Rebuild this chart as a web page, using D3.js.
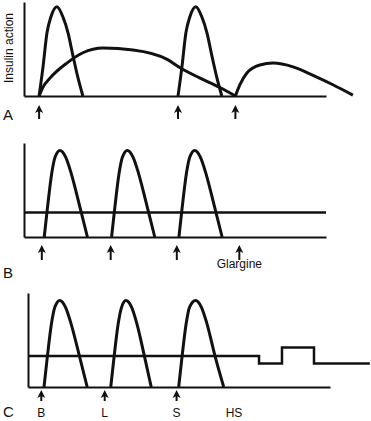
<!DOCTYPE html>
<html>
<head>
<meta charset="utf-8">
<script src="https://cdn.jsdelivr.net/npm/d3@7"></script>
<style>
  body { margin: 0; background: #fff; }
  text { font-family: "Liberation Sans", Arial, Helvetica, sans-serif; fill: #111; }
</style>
</head>
<body>
<div class="chart"></div>
<script>
// time runs 0..100 (arbitrary units), insulin action 0..100

// panel A: rapid acting + NPH
var aRapid1 = [[5,0],[6.3,31],[7.6,67],[8.9,84],[10.9,95],[12.9,84],[14.6,67],[16.2,43],[17.9,19],[19.5,0]];
var aRapid2 = [[51,0],[52.3,31],[53.6,67],[54.9,84],[56.9,95],[58.9,84],[60.6,67],[62.2,43],[63.9,19],[65.5,0]];
var aNph1 = [[5,0],[6.2,9],[8.6,19],[14.2,35],[19.5,46],[26.2,51],[36.1,49],[47.4,39],[51.7,30],[58.3,19],[64.9,9],[70,0]];
var aNph2 = [[70,0],[71.5,12],[73.8,24.5],[78.1,33],[82.5,35],[89.1,31],[95.7,22],[102.3,12],[108.9,1]];
var aArrows = [5, 51, 70];

// panel B: rapid acting + glargine
var bRapid1 = [[6.7,0],[7.8,32],[9.2,68],[10.3,85],[11.9,92],[13.8,85],[15.6,68],[18.5,32],[21,0]];
var bRapid2 = [[29,0],[30.1,32],[31.5,68],[32.6,85],[34.2,92],[36.1,85],[37.9,68],[40.8,32],[43.3,0]];
var bRapid3 = [[51.3,0],[52.4,32],[53.8,68],[54.9,85],[56.5,92],[58.4,85],[60.2,68],[63.1,32],[65.6,0]];
var bBasal = [[0,26],[100,26]];
var bArrows = [5.9, 28.7, 50.6, 71.3];
var bArrowLabels = ["", "", "", "Glargine"];

// panel C: rapid acting + pump basal
var cRapid1 = [[5.3,0],[6.4,32],[7.8,68],[8.9,85],[10.5,92],[12.4,85],[14.2,68],[17.1,32],[19.6,0]];
var cRapid2 = [[27.4,0],[28.5,32],[29.9,68],[31,85],[32.4,92],[34.3,85],[36,68],[38.6,32],[40.8,0]];
var cRapid3 = [[49.9,0],[51,32],[52.4,68],[53.5,85],[55.5,92],[57.4,85],[59.2,68],[62,32],[64.8,0]];
var cBasalTimes = [0, 76.5, 84.1, 94.7, 113.2];
var cBasalValues = [33, 25, 42, 25, 25];
var cArrows = [4.4, 25.4, 49.2];
var cLabels = ["B", "L", "S", "HS"];
var cLabelTimes = [4.4, 25.4, 49.2, 68.2];

var panelLetters = ["A", "B", "C"];

var width = 371, height = 421;

var svg = d3.select('.chart').append('svg')
	.attr('width', width)
	.attr('height', height);

var panels = [
	{ left: 24, top: 2, bottom: 96, curves: [aRapid1, aRapid2, aNph1, aNph2], arrows: aArrows, arrowTop: 105, arrowBottom: 119, letterY: 120 },
	{ left: 24, top: 143, bottom: 237, curves: [bRapid1, bRapid2, bRapid3], flat: [bBasal], arrows: bArrows, arrowTop: 245, arrowBottom: 260, letterY: 278 },
	{ left: 28, top: 293, bottom: 387, curves: [cRapid1, cRapid2, cRapid3], step: true, arrows: cArrows, arrowTop: 390, arrowBottom: 401, letterY: 417 }
];

var line = function(x, y, curve) {
	return d3.line()
		.x(function(d){ return x(d[0]); })
		.y(function(d){ return y(d[1]); })
		.curve(curve);
};

panels.forEach(function(p, i) {
	var x = d3.scaleLinear().domain([0, 100]).range([p.left, p.left + 302]);
	var y = d3.scaleLinear().domain([0, 100]).range([p.bottom, p.top]);
	var g = svg.append('g');

	// axes: bare lines, no ticks
	g.append('g').attr('transform', 'translate(0,' + p.bottom + ')')
		.call(d3.axisBottom(x).ticks(0).tickSizeOuter(0));
	g.append('g').attr('transform', 'translate(' + p.left + ',0)')
		.call(d3.axisLeft(y).ticks(0).tickSizeOuter(0));
	g.selectAll('.domain').attr('stroke', '#111').attr('stroke-width', 2);

	if (p.flat) {
		g.selectAll('path.flat').data(p.flat).enter().append('path')
			.attr('class', 'flat')
			.attr('d', line(x, y, d3.curveLinear))
			.attr('fill', 'none').attr('stroke', '#111').attr('stroke-width', 2.5);
	}
	if (p.step) {
		var basal = cBasalTimes.map(function(t, k){ return [t, cBasalValues[k]]; });
		g.append('path')
			.datum(basal)
			.attr('d', line(x, y, d3.curveStepAfter))
			.attr('fill', 'none').attr('stroke', '#111').attr('stroke-width', 2.5);
	}

	g.selectAll('path.curve').data(p.curves).enter().append('path')
		.attr('class', 'curve')
		.attr('d', line(x, y, d3.curveMonotoneX))
		.attr('fill', 'none')
		.attr('stroke', '#111')
		.attr('stroke-width', 3)
		.attr('stroke-linejoin', 'round');

	// arrows under the axis
	var arr = g.selectAll('g.arrow').data(p.arrows).enter().append('g')
		.attr('class', 'arrow')
		.attr('transform', function(d){ return 'translate(' + x(d) + ',0)'; });
	arr.append('line')
		.attr('y1', p.arrowTop + 5).attr('y2', p.arrowBottom)
		.attr('stroke', '#111').attr('stroke-width', 2);
	arr.append('path')
		.attr('d', 'M0,' + p.arrowTop + 'L4,' + (p.arrowTop + 8) + 'L0,' + (p.arrowTop + 6) + 'L-4,' + (p.arrowTop + 8) + 'Z')
		.attr('fill', '#111');

	g.append('text')
		.attr('x', 3).attr('y', p.letterY)
		.attr('font-size', 15)
		.text(panelLetters[i]);

	if (i === 1) {
		g.selectAll('text.lab').data(bArrows).enter().append('text')
			.attr('class', 'lab')
			.attr('x', function(d){ return x(d); })
			.attr('y', 268)
			.attr('text-anchor', 'middle')
			.attr('font-size', 12)
			.text(function(d, k){ return bArrowLabels[k]; });
	}
	if (i === 2) {
		g.selectAll('text.lab').data(cLabelTimes).enter().append('text')
			.attr('class', 'lab')
			.attr('x', function(d){ return x(d); })
			.attr('y', 417)
			.attr('text-anchor', 'middle')
			.attr('font-size', 12)
			.text(function(d, k){ return cLabels[k]; });
	}
});

svg.append('text')
	.attr('transform', 'translate(13,48) rotate(-90)')
	.attr('text-anchor', 'middle')
	.attr('font-size', 12)
	.text('Insulin action');
</script>
</body>
</html>
